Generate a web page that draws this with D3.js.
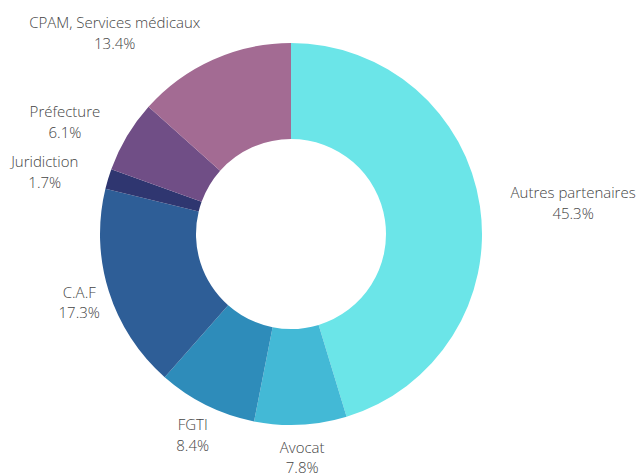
<!DOCTYPE html>
<html><head><meta charset="utf-8">
<script src="https://cdn.jsdelivr.net/npm/d3@7"></script>
<style>body{margin:0;background:#fff}</style>
</head><body>
<svg id="c" width="638" height="473"></svg>
<script>
const categories = ["Autres partenaires","Avocat","FGTI","C.A.F","Juridiction","Préfecture","CPAM, Services médicaux"];
const values = [45.3, 7.8, 8.4, 17.3, 1.7, 6.1, 13.4];
const colors = ["#6be5e8","#43b9d6","#2e8cba","#2e5e97","#2f3670","#704e86","#a36b93"];

const W = 638, H = 473, cx = 291, cy = 234, R = 191, r0 = 95, labelR = 222;
const svg = d3.select("#c");
const g = svg.append("g").attr("transform", `translate(${cx},${cy})`);
const data = categories.map((c,i)=>({name:c, value:values[i], color:colors[i]}));
const pie = d3.pie().value(d=>d.value).sort(null);
const arc = d3.arc().innerRadius(r0).outerRadius(R);
const arcs = pie(data);
g.selectAll("path").data(arcs).join("path").attr("d", arc).attr("fill", d=>d.data.color);

const lab = g.selectAll("g.lab").data(arcs).join("g").attr("class","lab");
lab.each(function(d){
  const a = (d.startAngle + d.endAngle)/2;
  const x = Math.sin(a)*labelR, y = -Math.cos(a)*labelR;
  const t = d3.select(this).append("text")
    .attr("font-family","'Open Sans', sans-serif").attr("font-weight",300)
    .attr("font-size",15).attr("fill","#444").attr("text-anchor","middle");
  const l1 = t.append("tspan").attr("y", y-3).text(d.data.name);
  const l2 = t.append("tspan").attr("y", y+17.5).text(d.data.value.toFixed(1)+"%");
  const w = Math.max(l1.node().getComputedTextLength(), l2.node().getComputedTextLength());
  let xc = x;
  if (y < 0) xc = x + (x >= 0 ? w/2 : -w/2);
  l1.attr("x", xc); l2.attr("x", xc);
});
</script>
</body></html>
